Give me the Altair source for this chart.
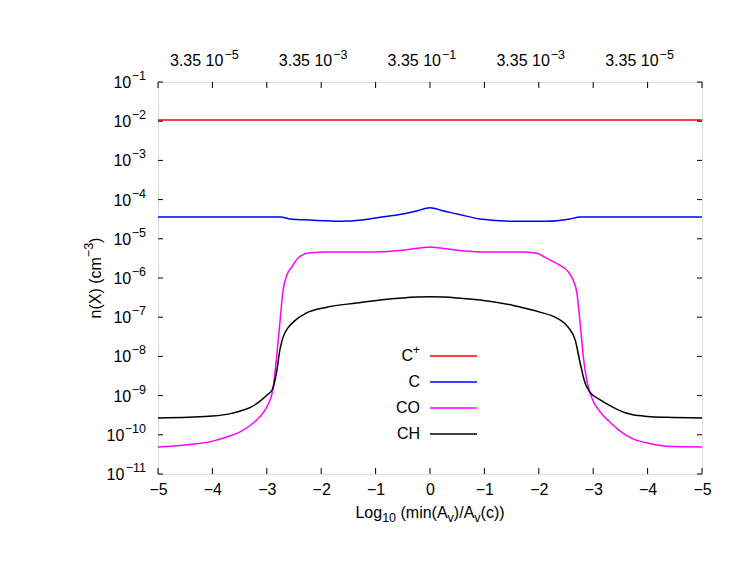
import altair as alt
import pandas as pd

FONT = "Liberation Sans"
MINUS = "\u2212"

# ---------------- data (position along cut, abundance in cm^-3) ----------------
cplus_pos = [-5, -2.5, 0, 2.5, 5]
cplus_val = [1.07e-2, 1.07e-2, 1.07e-2, 1.07e-2, 1.07e-2]

c_pos = [-5, -4, -3, -2.75, -2.57, -2.2, -1.65, -1.25, -1.0, -0.5, -0.25, 0,
         0.25, 0.5, 0.92, 1.53, 2.14, 2.57, 2.76, 3, 4, 5]
c_val = [3.6e-5, 3.6e-5, 3.6e-5, 3.6e-5, 3.2e-5, 3.0e-5, 2.8e-5, 3.0e-5, 3.4e-5, 4.3e-5, 5.1e-5, 6.2e-5,
         5.1e-5, 4.3e-5, 3.2e-5, 2.8e-5, 2.8e-5, 3.2e-5, 3.6e-5, 3.6e-5, 3.6e-5, 3.6e-5]

co_pos = [-5, -4.5, -4, -3.75, -3.5, -3.3, -3.15, -3, -2.89, -2.82, -2.76, -2.7, -2.63, -2.54, -2.43,
          -2.21, -1.89, -1.05, -0.5, -0.2, 0, 0.2, 0.5, 1.0, 1.65, 1.97, 2.05, 2.14, 2.39, 2.54, 2.63,
          2.7, 2.76, 2.82, 2.88, 2.97, 3.13, 3.31, 3.49, 3.73, 4.04, 4.35, 5]
co_val = [4.9e-11, 5.5e-11, 6.9e-11, 8.7e-11, 1.17e-10, 1.75e-10, 2.7e-10, 5.1e-10, 1.4e-9, 9.5e-9,
          7.1e-8, 4.9e-7, 1.2e-6, 1.9e-6, 3.2e-6, 4.4e-6, 4.6e-6, 4.6e-6, 5.1e-6, 5.8e-6, 6.2e-6,
          5.8e-6, 5.1e-6, 4.6e-6, 4.6e-6, 4.3e-6, 3.8e-6, 3.2e-6, 2.1e-6, 1.45e-6, 8.9e-7, 4.2e-7,
          7.1e-8, 9.5e-9, 2.5e-9, 9.1e-10, 3.8e-10, 2.1e-10, 1.26e-10, 7.9e-11, 6.0e-11, 5.1e-11,
          4.9e-11]

ch_pos = [-5, -4.44, -4, -3.67, -3.5, -3.3, -3.13, -3, -2.9, -2.82, -2.76, -2.7, -2.6, -2.51, -2.27,
          -1.9, -1.35, -0.92, -0.5, 0, 0.5, 0.92, 1.53, 2.02, 2.33, 2.54, 2.67, 2.76, 2.85, 2.94,
          3.13, 3.3, 3.43, 3.6, 3.73, 4.0, 4.35, 5]
ch_val = [2.7e-10, 2.8e-10, 3.0e-10, 3.47e-10, 3.98e-10, 5.0e-10, 7.1e-10, 1.02e-9, 1.41e-9, 4.0e-9,
          1.45e-8, 3.1e-8, 5.6e-8, 7.6e-8, 1.29e-7, 1.8e-7, 2.3e-7, 2.75e-7, 3.1e-7, 3.3e-7, 3.1e-7,
          2.75e-7, 2.0e-7, 1.35e-7, 9.5e-8, 5.6e-8, 2.6e-8, 6.8e-9, 2.1e-9, 1.23e-9, 7.8e-10,
          5.6e-10, 4.5e-10, 3.6e-10, 3.25e-10, 2.95e-10, 2.8e-10, 2.7e-10]

species = ["C+", "C", "CO", "CH"]
legend_labels = ["C", "C", "CO", "CH"]
legend_sup = ["+", "", "", ""]
colors = ["#ff0000", "#0000ff", "#ff00ff", "#000000"]

# axis ticks / labels
x_ticks = [-5, -4, -3, -2, -1, 0, 1, 2, 3, 4, 5]
y_exponents = [-11, -10, -9, -8, -7, -6, -5, -4, -3, -2, -1]
top_label_pos = [-4, -2, 0, 2, 4]
top_label_base = ["3.35 10", "3.35 10", "3.35 10", "3.35 10", "3.35 10"]
top_label_exp = [MINUS + "5", MINUS + "3", MINUS + "1", MINUS + "3", MINUS + "5"]

W, H = 544, 392
FS, FSS = 16, 12.5   # base and super/subscript font sizes

# Arial / Liberation Sans advance widths (em/1000)
AW = {"L": 556, "o": 556, "g": 556, " ": 278, "(": 333, ")": 333, "m": 833, "i": 222,
      "n": 556, "A": 667, "/": 278, "c": 500, "v": 500, "1": 556, "0": 556, "X": 667,
      MINUS: 584, "3": 556}


def tw(s, size):
    return sum(AW.get(ch, 556) for ch in s) * size / 1000.0


# ---------------- tables ----------------
rows = []
for name, pos, val in [("C+", cplus_pos, cplus_val), ("C", c_pos, c_val),
                       ("CO", co_pos, co_val), ("CH", ch_pos, ch_val)]:
    for p, v in zip(pos, val):
        rows.append({"species": name, "p": p, "n": v})
df = pd.DataFrame(rows)

xt = pd.DataFrame({"p": x_ticks})
yt = pd.DataFrame({"n": [10.0 ** e for e in y_exponents],
                   "e": y_exponents,
                   "exp": [MINUS + str(abs(e)) for e in y_exponents]})
top = pd.DataFrame({"p": top_label_pos, "base": top_label_base, "exp": top_label_exp})

xscale = alt.Scale(domain=[-5, 5], nice=False, zero=False)
yscale = alt.Scale(type="log", domain=[1e-11, 1e-1], nice=False)

XAXIS = alt.Axis(values=x_ticks,
                 labelExpr="datum.value == 0 ? '0' : '\u2212' + abs(datum.value)",
                 ticks=False, domain=False, grid=False,
                 labelFont=FONT, labelFontSize=FS, labelColor="black",
                 labelPadding=7, labelFlush=False, labelOverlap=False,
                 title=None)

X = alt.X("p:Q", scale=xscale, axis=XAXIS)
Y = alt.Y("n:Q", scale=yscale, axis=None)

lines = alt.Chart(df).mark_line(strokeWidth=1.5, interpolate="monotone").encode(
    x=X, y=Y,
    color=alt.Color("species:N", scale=alt.Scale(domain=species, range=colors), legend=None),
    detail="species:N",
)

# ticks pointing inward (gnuplot style)
bot_ticks = alt.Chart(xt).mark_rule(color="black", strokeWidth=1).encode(
    x=X, y=alt.value(H), y2=alt.value(H - 6))
top_ticks = alt.Chart(xt).mark_rule(color="black", strokeWidth=1).encode(
    x=X, y=alt.value(0), y2=alt.value(6))
left_ticks = alt.Chart(yt).mark_rule(color="black", strokeWidth=1).encode(
    y=Y, x=alt.value(0), x2=alt.value(5))
right_ticks = alt.Chart(yt).mark_rule(color="black", strokeWidth=1).encode(
    y=Y, x=alt.value(W), x2=alt.value(W - 5))

# y tick labels: "10" with superscript exponent
y_exp_text = alt.Chart(yt).mark_text(align="right", baseline="middle", font=FONT,
                                     fontSize=FSS, dy=-6, color="black").encode(
    y=Y, x=alt.value(-12), text="exp:N")
y_base_1 = alt.Chart(yt).transform_filter("datum.e > -10").mark_text(
    align="right", baseline="middle", font=FONT, fontSize=FS, dy=1, color="black").encode(
    y=Y, x=alt.value(-12 - tw(MINUS + "1", FSS) - 0.5), text=alt.value("10"))
y_base_2 = alt.Chart(yt).transform_filter("datum.e <= -10").mark_text(
    align="right", baseline="middle", font=FONT, fontSize=FS, dy=1, color="black").encode(
    y=Y, x=alt.value(-12 - tw(MINUS + "11", FSS) - 0.5), text=alt.value("10"))

# top labels
top_base = alt.Chart(top).mark_text(align="right", baseline="middle", font=FONT,
                                    fontSize=FS, dx=11, color="black").encode(
    x=X, y=alt.value(-21), text="base:N")
top_exp = alt.Chart(top).mark_text(align="left", baseline="middle", font=FONT,
                                   fontSize=FSS, dx=12, dy=-6, color="black").encode(
    x=X, y=alt.value(-21), text="exp:N")

# x title with subscripts, laid out as segments (text, size, vertical offset, gap before)
SP = tw(" ", FS)
xt_segs = [("Log", FS, 0, 0), ("10", FSS, 5, 0), ("(min(A", FS, 0, SP), ("v", FSS, 5, 0),
           (")/A", FS, 0, 0), ("v", FSS, 5, 0), ("(c))", FS, 0, 0)]
total = sum(tw(s, f) + g for s, f, _, g in xt_segs)
xpos = W / 2 - total / 2
title_layers = []
for s, f, off, gap in xt_segs:
    xpos += gap
    title_layers.append(alt.Chart(pd.DataFrame({"t": [s]})).mark_text(
        align="left", baseline="middle", font=FONT, fontSize=f, color="black").encode(
        x=alt.value(xpos), y=alt.value(H + 39 + off), text="t:N"))
    xpos += tw(s, f)

# y title (rotated) with superscript
yt_segs = [("n(X) (cm", FS, 0), (MINUS + "3", FSS, -7), (")", FS, 0)]
total = sum(tw(s, f) for s, f, _ in yt_segs)
ypos = H / 2 + total / 2
for s, f, off in yt_segs:
    title_layers.append(alt.Chart(pd.DataFrame({"t": [s]})).mark_text(
        angle=270, align="left", baseline="middle", font=FONT, fontSize=f, color="black").encode(
        x=alt.value(-62 + off), y=alt.value(ypos), text="t:N"))
    ypos -= tw(s, f)

# legend (label left, line sample right)
legend_layers = []
for i, (lab, sup, col) in enumerate(zip(legend_labels, legend_sup, colors)):
    yy = 274 + 26 * i
    d = pd.DataFrame({"label": [lab], "sup": [sup]})
    right_edge = 262
    if sup:
        legend_layers.append(alt.Chart(d).mark_text(align="right", baseline="middle", font=FONT,
                                                    fontSize=FSS, dy=-6, color="black").encode(
            x=alt.value(right_edge), y=alt.value(yy), text="sup:N"))
        right_edge -= 7
    legend_layers.append(alt.Chart(d).mark_text(align="right", baseline="middle", font=FONT,
                                                fontSize=FS, color="black").encode(
        x=alt.value(right_edge), y=alt.value(yy), text="label:N"))
    legend_layers.append(alt.Chart(d).mark_rule(strokeWidth=1.5).encode(
        x=alt.value(272), x2=alt.value(319), y=alt.value(yy), color=alt.value(col)))

chart = alt.layer(
    lines, bot_ticks, top_ticks, left_ticks, right_ticks,
    y_exp_text, y_base_1, y_base_2, top_base, top_exp, *title_layers, *legend_layers
).properties(
    width=W, height=H,
    autosize=alt.AutoSizeParams(type="none"),
    padding={"left": 150, "top": 74, "right": 42, "bottom": 99},
).configure_view(
    stroke="black", strokeWidth=1
).configure(background="white")

chart.save("out.html", embed_options={"renderer": "svg", "actions": False})
